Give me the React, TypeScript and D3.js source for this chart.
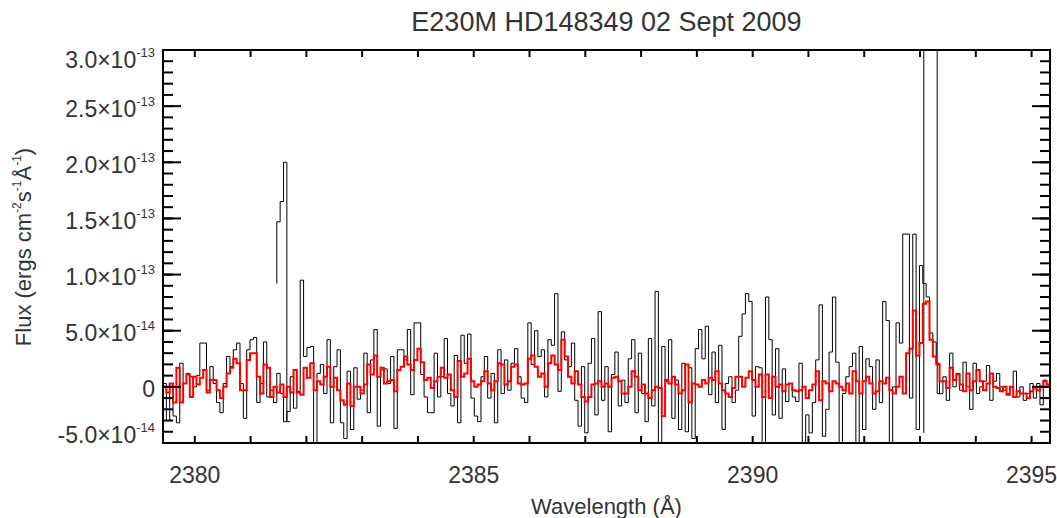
import React from "react";
import * as d3 from "d3";

const titleText = "E230M HD148349 02 Sept 2009";
const xLabelText = "Wavelength (Å)";

const waveStart = 2379.43;
const waveEnd = 2395.33;
const binWidth = 0.06;
const fluxUnit = 1e-14;

// black spectrum (units of 1e-14 erg cm^-2 s^-1 A^-1), one value per bin
const blackFlux = [
  0.3, -3.0, 0.3, -2.6, -3.2, 2.1, 0.3, 1.2, 0.9, 0.0,
  1.0, 3.9, 3.9, -0.3, 1.8, 0.3, -1.4, -2.3, 0.3, 2.7,
  1.8, 3.3, 3.9, 0.3, -2.8, 3.3, 4.2, 4.4, -1.4, 0.3,
  4.0, -0.9, -0.3, -1.4, 1.2, -0.6, -3.1, -2.2, 0.9, -1.9,
  -0.4, 9.5, 2.7, 3.5, 3.6, -5.5, 1.2, 2.0, -0.6, 4.2,
  -3.2, 1.8, 3.3, -3.2, -4.6, 1.4, -3.8, 1.7, -1.1, -0.3,
  3.0, -2.3, 2.4, 5.1, -3.5, 1.5, 1.6, 0.3, 2.7, -3.7,
  3.3, 3.3, 2.4, 5.1, -0.7, 5.7, 5.7, 1.1, -0.9, -2.3,
  -2.3, 3.0, -0.9, 0.9, 4.3, -0.6, -1.7, 2.8, -3.2, 4.6,
  2.1, 4.7, -1.0, -2.6, -3.1, 0.9, 2.7, -1.0, 1.2, -3.2,
  3.3, -0.6, 2.4, -0.3, 2.1, 3.4, 0.9, -1.0, -1.4, 5.7,
  2.0, 5.0, 2.7, 3.3, -0.9, 4.2, 3.7, 8.3, -0.4, 4.9,
  2.4, 1.8, 3.9, -1.2, -3.5, 1.8, -4.1, 2.1, 4.3, -2.5,
  6.7, -1.2, 1.8, -4.0, 1.1, 3.1, -1.7, 0.6, -1.4, 2.5,
  4.2, -2.3, 3.0, -0.6, -3.1, 4.3, -1.7, 8.5, -5.5, 3.6,
  0.5, 4.2, -2.8, 0.6, -3.8, 2.1, -4.0, 1.7, -4.6, 3.4,
  5.1, 2.5, 5.4, -0.7, 3.1, -1.4, 3.7, -3.8, 0.3, 0.9,
  -1.4, -0.3, 4.5, 6.5, 8.3, 7.6, -2.6, 1.8, 1.7, -5.5,
  8.0, 4.2, -2.5, 3.4, -2.8, 1.6, -1.3, 0.3, -0.9, -1.3,
  2.1, -5.5, -2.5, -4.1, -1.4, 2.4, 7.3, -4.4, -2.0, 3.1,
  8.0, 2.2, -5.5, -0.6, 0.9, 1.8, 3.0, -5.0, 3.6, -3.8,
  2.5, 1.8, -2.0, 2.4, -1.4, 7.6, 5.9, -5.5, 0.0, 5.7,
  3.9, 13.6, 13.6, -1.0, 13.6, -3.8, 10.8, 9.2, 8.0, 4.8,
  4.0, 2.1, -0.6, 0.9, -1.2, 3.0, 0.0, 1.2, -0.3, 2.2,
  0.0, -2.0, 2.1, -0.6, 0.0, 0.5, 1.9, -1.2, 0.5, 1.2,
  0.0, -0.3, -0.6, 0.0, 1.4, -0.9, 0.0, -1.2, -0.6, 0.3,
  -1.0, 0.3, -1.6, 0.6, 0.2,
];

// red smoothed spectrum (units of 1e-14)
const redFlux = [
  0.0, -0.5, 0.3, -1.4, 1.7, -1.4, 0.3, 1.1, -0.9, 0.9,
  0.2, 0.8, 1.5, -0.5, 0.6, 0.6, -0.3, -1.0, 0.0, 1.2,
  1.7, 2.5, 2.1, -0.3, -0.3, 2.4, 3.0, 3.0, 0.9, -0.6,
  2.0, 1.7, -0.9, 0.0, -0.5, 0.2, -0.9, 0.0, -0.5, 1.5,
  -0.5, -0.7, 1.7, 0.8, 2.1, -0.3, 0.5, 0.2, 0.9, 1.8,
  0.0, 0.8, -0.3, -1.2, -1.6, 0.3, -1.7, 0.0, 0.0, -0.6,
  0.2, 2.0, 1.1, 2.8, 0.9, 1.7, 0.3, 0.5, 0.6, -0.4,
  1.5, 1.8, 2.7, 2.0, 1.5, 2.4, 3.4, 2.2, 0.6, 0.8,
  -0.1, 0.5, 0.9, 1.7, 0.8, 1.1, -0.3, -0.9, 2.3, 0.9,
  1.2, 2.5, 0.5, 0.0, 0.2, 0.5, 1.4, 0.3, -0.3, 0.5,
  2.1, 2.0, 0.2, 0.5, 1.8, 2.0, 0.3, 0.2, 0.3, 2.5,
  2.8, 1.8, 0.9, 1.2, 0.0, 2.1, 2.8, 2.0, 1.5, 4.2,
  2.7, 0.9, 0.3, 1.4, 0.2, -0.9, -1.3, -0.9, 0.2, 0.3,
  0.5, 0.0, 0.3, 0.0, 0.8, 0.9, 0.5, -0.6, -0.6, 0.0,
  1.4, 0.9, -0.3, 0.2, -0.6, -1.0, -0.3, 0.0, -0.1, -2.6,
  0.6, 0.3, 0.9, 0.2, -0.6, -0.3, 2.0, -1.4, 0.3, 0.2,
  0.0, 0.6, 0.3, 0.8, 0.6, 1.4, 0.3, -0.3, -0.6, -0.9,
  -0.1, 0.9, 0.9, 0.0, 0.8, 1.4, 0.6, 0.0, 1.1, -0.9,
  1.1, -1.0, 0.9, 0.0, 0.2, -0.4, 0.2, 0.3, -0.3, -0.4,
  -0.3, 0.0, -1.0, -0.3, 0.2, 1.4, -1.2, 0.5, 0.3, -0.4,
  0.5, 0.3, 0.0, -0.3, 0.3, -0.6, 1.4, 0.5, -0.6, 0.5,
  0.9, 0.3, -0.6, -0.4, 0.5, 0.3, 0.8, -0.3, -0.6, 0.0,
  0.9, -0.6, 3.0, 3.4, 6.8, 2.8, 3.9, 7.4, 7.6, 4.2,
  2.7, 2.0, 0.5, 0.5, -0.1, 1.7, 0.6, 1.1, 0.2, -0.4,
  1.2, -0.3, 0.5, 1.5, 0.5, -0.3, 0.3, 1.2, 0.0, -0.1,
  -0.4, 0.0, -0.7, 0.0, -0.9, -0.4, -0.6, -0.6, -1.0, -0.4,
  -0.1, -0.3, 0.0, 0.5, 0.2,
];

// order-edge segments (units of 1e-14)
const edgeLeftStart = 2381.47;
const edgeLeftFlux = [9.2, 14.7, 16.5, 20.0, -3.1];
const edgeRightStart = 2393.068;
const edgeRightFlux = [-4.1, 40, 40, 40, 40, -0.6];

const xMajorTicks = [2380, 2385, 2390, 2395];
const xAllTicks = [2380, 2381, 2382, 2383, 2384, 2385, 2386, 2387, 2388, 2389, 2390, 2391, 2392, 2393, 2394, 2395];
const yMajorTicks = [-5e-14, 0, 5e-14, 1e-13, 1.5e-13, 2e-13, 2.5e-13, 3e-13];
const yTickMantissa = ["-5.0", "0", "5.0", "1.0", "1.5", "2.0", "2.5", "3.0"];
const yTickExponent = ["-14", "", "-14", "-13", "-13", "-13", "-13", "-13"];
const yMinorStep = 1e-14;

const W = 1057;
const H = 518;
const L = 163, R = 1050, T = 50, B = 443;
const FONT = "'Liberation Sans', Arial, Helvetica, sans-serif";
const TXT = "#333";

export default function App() {
  const x = d3.scaleLinear().domain([waveStart, waveEnd]).range([L, R]);
  const y = d3.scaleLinear().domain([-5e-14, 3e-13]).range([B, T]);

  const binPts = (start: number, vals: number[]) => {
    const pts: [number, number][] = vals.map((v, i) => [start + i * binWidth, v * fluxUnit]);
    pts.push([start + vals.length * binWidth, vals[vals.length - 1] * fluxUnit]);
    return pts;
  };
  const edgePts = (start: number, vals: number[]) =>
    vals.map((v, i) => [start + i * binWidth, v * fluxUnit] as [number, number]);

  const stepAfter = d3.line<[number, number]>().x(d => x(d[0])).y(d => y(d[1])).curve(d3.curveStepAfter);
  const stepBefore = d3.line<[number, number]>().x(d => x(d[0])).y(d => y(d[1])).curve(d3.curveStepBefore);

  const blackPath = stepAfter(binPts(waveStart, blackFlux)) || "";
  const redPath = stepAfter(binPts(waveStart, redFlux)) || "";
  const edgeL = stepBefore(edgePts(edgeLeftStart, edgeLeftFlux)) || "";
  const edgeR = stepBefore(edgePts(edgeRightStart, edgeRightFlux)) || "";

  const yMinor = d3.range(-5e-14, 3e-13 + 1e-16, yMinorStep);

  return (
    <svg width={W} height={H} style={{ position: "absolute", left: 0, top: 0, background: "#fff" }}>
      <defs>
        <clipPath id="plotclip">
          <rect x={L} y={T} width={R - L} height={B - T} />
        </clipPath>
      </defs>
      <rect x={0} y={0} width={W} height={H} fill="#fff" />
      <g clipPath="url(#plotclip)" fill="none">
        <path d={blackPath} stroke="#000" strokeWidth={1} />
        <path d={edgeL} stroke="#000" strokeWidth={1} />
        <path d={edgeR} stroke="#000" strokeWidth={1} />
        <path d={redPath} stroke="#ff0000" strokeWidth={2} />
      </g>
      {/* frame */}
      <rect x={L} y={T} width={R - L} height={B - T} fill="none" stroke="#000" strokeWidth={2} />
      {/* x ticks */}
      {xAllTicks.map(t => (
        <g key={"xt" + t}>
          <line x1={x(t)} x2={x(t)} y1={B} y2={B - 7} stroke="#000" strokeWidth={2} />
          <line x1={x(t)} x2={x(t)} y1={T} y2={T + 7} stroke="#000" strokeWidth={2} />
        </g>
      ))}
      {/* y minor ticks */}
      {yMinor.map((t, i) => (
        <g key={"ym" + i}>
          <line x1={L} x2={L + 10} y1={y(t)} y2={y(t)} stroke="#000" strokeWidth={2} />
          <line x1={R} x2={R - 10} y1={y(t)} y2={y(t)} stroke="#000" strokeWidth={2} />
        </g>
      ))}
      {/* y major ticks */}
      {yMajorTicks.map((t, i) => (
        <g key={"yM" + i}>
          <line x1={L} x2={L + 18} y1={y(t)} y2={y(t)} stroke="#000" strokeWidth={2} />
          <line x1={R} x2={R - 18} y1={y(t)} y2={y(t)} stroke="#000" strokeWidth={2} />
        </g>
      ))}
      {/* y tick labels */}
      {yMajorTicks.map((t, i) => {
        const base = Math.min(Math.max(y(t) + 10.5, 68), 443);
        return (
          <text key={"yl" + i} x={155} y={base} textAnchor="end" fontFamily={FONT} fontSize={23} fill={TXT}>
            {yTickExponent[i] ? yTickMantissa[i] + "×10" : yTickMantissa[i]}
            {yTickExponent[i] ? (
              <tspan fontSize={13} dy={-11}>{yTickExponent[i]}</tspan>
            ) : null}
          </text>
        );
      })}
      {/* x tick labels */}
      {xMajorTicks.map(t => (
        <text key={"xl" + t} x={x(t)} y={483} textAnchor="middle" fontFamily={FONT} fontSize={23} fill={TXT}>
          {String(t)}
        </text>
      ))}
      {/* title */}
      <text x={(L + R) / 2} y={31} textAnchor="middle" fontFamily={FONT} fontSize={27} fill={TXT}>
        {titleText}
      </text>
      {/* x label */}
      <text x={(L + R) / 2} y={514} textAnchor="middle" fontFamily={FONT} fontSize={22} fill={TXT}>
        {xLabelText}
      </text>
      {/* y label */}
      <text transform={`translate(31,247) rotate(-90)`} textAnchor="middle" fontFamily={FONT} fontSize={22} fill={TXT}>
        Flux (ergs cm
        <tspan fontSize={12} dy={-10}>-2</tspan>
        <tspan dy={10}>s</tspan>
        <tspan fontSize={12} dy={-10}>-1</tspan>
        <tspan dy={10}>Å</tspan>
        <tspan fontSize={12} dy={-10}>-1</tspan>
        <tspan dy={10}>)</tspan>
      </text>
    </svg>
  );
}
